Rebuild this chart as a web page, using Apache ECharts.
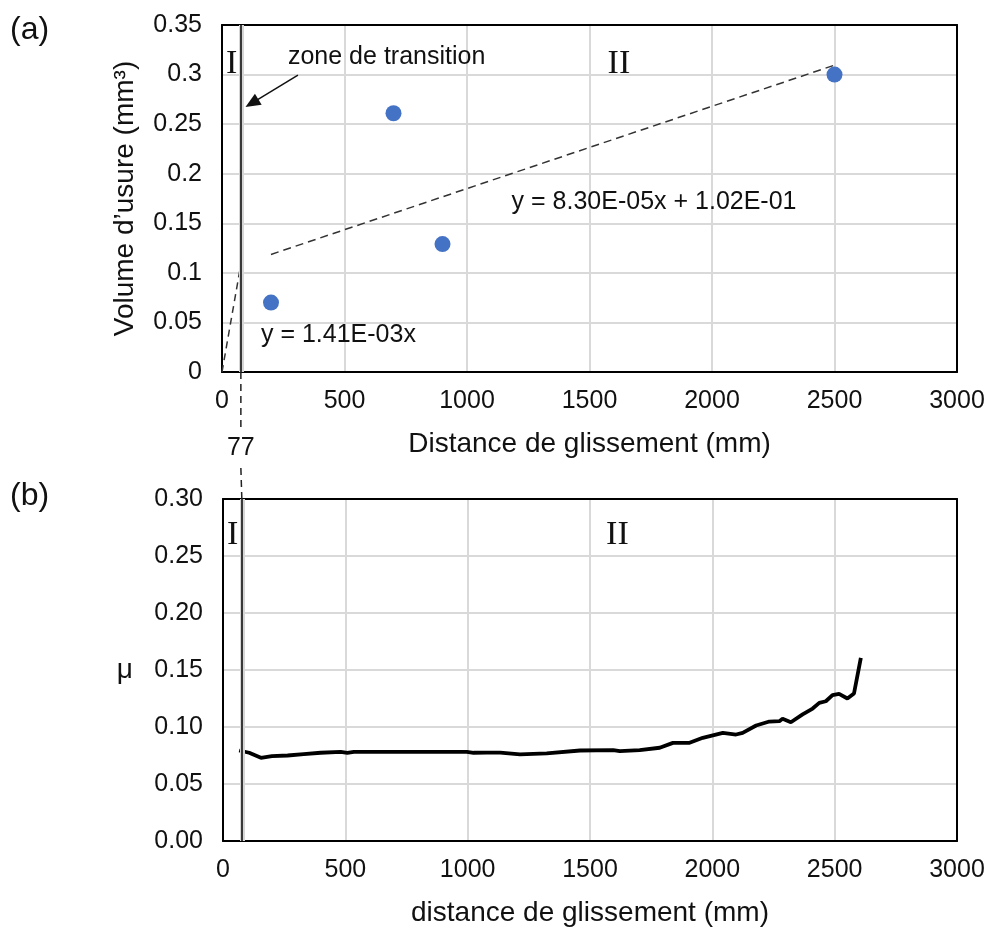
<!DOCTYPE html>
<html><head><meta charset="utf-8">
<script src="https://cdn.jsdelivr.net/npm/echarts@6/dist/echarts.min.js"></script>
<style>html,body{margin:0;padding:0;background:#fff}#c{width:992px;height:932px}</style>
</head><body><div id="c"></div>
<script>
// ---------- data ----------
const wearDistance = [200, 700, 900, 2500];
const wearVolume = [0.070, 0.261, 0.129, 0.300];
const fitIDistance = [0, 77];
const fitIVolume = [0, 0.1086];
const fitIIDistance = [200, 2500];
const fitIIVolume = [0.1186, 0.3095];
const transitionDistance = 77;
const frictionDistance = [66, 107, 155, 200, 264, 330, 399, 481, 508, 535, 700, 900, 997, 1024, 1078, 1133, 1214, 1323, 1459, 1595, 1622, 1703, 1785, 1839, 1907, 1961, 2043, 2097, 2124, 2179, 2233, 2274, 2287, 2321, 2369, 2410, 2437, 2464, 2491, 2518, 2552, 2579, 2607];
const frictionMu = [0.0794, 0.0774, 0.0730, 0.0745, 0.0750, 0.0762, 0.0774, 0.0782, 0.0774, 0.0782, 0.0782, 0.0782, 0.0782, 0.0774, 0.0775, 0.0776, 0.0759, 0.0768, 0.0794, 0.0797, 0.0788, 0.0797, 0.0818, 0.0861, 0.0861, 0.0905, 0.0949, 0.0934, 0.0949, 0.1013, 0.1048, 0.1051, 0.1072, 0.1042, 0.1110, 0.1162, 0.1212, 0.1226, 0.1279, 0.1291, 0.1250, 0.1294, 0.1607];
const xTickLabels = ['0', '500', '1000', '1500', '2000', '2500', '3000'];
const eqII = 'y = 8.30E-05x + 1.02E-01';
const eqI = 'y = 1.41E-03x';

// ---------- chart ----------
const FONT = "'Liberation Sans', Arial, sans-serif";
const SERIF = "'Liberation Serif', 'Times New Roman', serif";
const TXT = '#111';
const zip = (a, b) => a.map((v, i) => [v, b[i]]);

function mainX(grid, name) {
  return {
    gridIndex: grid, type: 'value', min: 0, max: 3000, interval: 500, position: 'bottom',
    axisLine: { show: true, onZero: false, lineStyle: { color: '#000', width: 2 } },
    axisTick: { show: false },
    axisLabel: { fontSize: 25, color: TXT, fontFamily: FONT, margin: 17,
      formatter: v => xTickLabels[Math.round(v / 500)] },
    splitLine: { show: true, showMinLine: false, showMaxLine: false, lineStyle: { color: '#d9d9d9', width: 2 } },
    name: name, nameLocation: 'middle', nameGap: 58,
    nameTextStyle: { fontSize: 28, color: TXT, fontFamily: FONT }
  };
}
function frameX(grid) {
  return { gridIndex: grid, type: 'value', min: 0, max: 3000, position: 'top', z: 3,
    axisLine: { show: true, onZero: false, lineStyle: { color: '#000', width: 2 } },
    axisTick: { show: false }, axisLabel: { show: false }, splitLine: { show: false } };
}
function mainY(grid, max, fmt, name, nameRot, nameGap) {
  return {
    gridIndex: grid, type: 'value', min: 0, max: max, interval: 0.05, position: 'left',
    axisLine: { show: true, onZero: false, lineStyle: { color: '#000', width: 2 } },
    axisTick: { show: false },
    axisLabel: { fontSize: 25, color: TXT, fontFamily: FONT, margin: 20, formatter: fmt },
    splitLine: { show: true, showMinLine: false, showMaxLine: false, lineStyle: { color: '#d9d9d9', width: 2 } },
    name: name, nameLocation: 'middle', nameRotate: nameRot, nameGap: nameGap,
    nameTextStyle: { fontSize: 28, color: TXT, fontFamily: FONT }
  };
}
function frameY(grid, max) {
  return { gridIndex: grid, type: 'value', min: 0, max: max, position: 'right', z: 3,
    axisLine: { show: true, onZero: false, lineStyle: { color: '#000', width: 2 } },
    axisTick: { show: false }, axisLabel: { show: false }, splitLine: { show: false } };
}

const chart = echarts.init(document.getElementById('c'), null, { renderer: 'canvas' });
const option = {
  animation: false,
  backgroundColor: '#fff',
  grid: [
    { left: 222, top: 25, width: 735, height: 347, containLabel: false, outerBoundsMode: 'none' },
    { left: 223, top: 499, width: 734, height: 342, containLabel: false, outerBoundsMode: 'none' }
  ],
  xAxis: [
    mainX(0, 'Distance de glissement (mm)'), frameX(0),
    mainX(1, 'distance de glissement (mm)'), frameX(1)
  ],
  yAxis: [
    mainY(0, 0.35, v => String(+v.toFixed(2)), 'Volume d\u2019usure (mm\u00b3)', 90, 83), frameY(0, 0.35),
    mainY(1, 0.30, v => v.toFixed(2), '\u03bc', 0, 90), frameY(1, 0.30)
  ],
  series: [
    { type: 'line', xAxisIndex: 0, yAxisIndex: 0, data: zip(fitIDistance, fitIVolume), symbol: 'none', z: 3,
      lineStyle: { color: '#333', width: 1.5, type: [7, 5] },
      markLine: { silent: true, symbol: ['none', 'none'], label: { show: false },
        lineStyle: { color: '#d6d6d6', width: 5, type: 'solid' }, data: [{ xAxis: transitionDistance }] } },
    { type: 'line', xAxisIndex: 0, yAxisIndex: 0, data: zip(fitIIDistance, fitIIVolume), symbol: 'none', z: 3,
      lineStyle: { color: '#333', width: 1.5, type: [8, 5] },
      markLine: { silent: true, symbol: ['none', 'none'], label: { show: false },
        lineStyle: { color: '#111', width: 1.6, type: 'solid' }, data: [{ xAxis: transitionDistance }] } },
    { type: 'scatter', xAxisIndex: 0, yAxisIndex: 0, data: zip(wearDistance, wearVolume), symbolSize: 16, z: 5,
      itemStyle: { color: '#4472C4', opacity: 1 },
      markLine: { silent: true, label: { show: false }, symbol: ['none', 'triangle'], symbolSize: [13, 15],
        lineStyle: { color: '#111', width: 1.5, type: 'solid' },
        data: [ [ { coord: [310, 0.2994] }, { coord: [122, 0.2712] } ] ] } },
    { type: 'line', xAxisIndex: 2, yAxisIndex: 2, data: zip(frictionDistance, frictionMu), symbol: 'none', z: 4,
      lineStyle: { color: '#000', width: 3.8 },
      markLine: { silent: true, symbol: ['none', 'none'], label: { show: false },
        data: [
          { xAxis: transitionDistance, lineStyle: { color: '#d6d6d6', width: 5, type: 'solid' } },
          { xAxis: transitionDistance, lineStyle: { color: '#111', width: 1.6, type: 'solid' } }
        ] } }
  ]
};
chart.setOption(option);

// annotations positioned through the axes' scales
const p0 = (x, y) => chart.convertToPixel({ gridIndex: 0 }, [x, y]);
const p1 = (x, y) => chart.convertToPixel({ gridIndex: 1 }, [x, y]);
const txt = (pt, text, size, family, align) => ({
  type: 'text', x: pt[0], y: pt[1], silent: true, z: 10,
  style: { text: text, fontSize: size, fontFamily: family, fill: TXT, align: align || 'center', verticalAlign: 'middle' }
});
const a = p0(transitionDistance, 0);
const b = p1(transitionDistance, 0.30);
const graphics = [
  txt(p0(672, 0.3175), 'zone de transition', 25, FONT),
  txt(p0(1182, 0.1714), eqII, 25, FONT, 'left'),
  txt(p0(159, 0.0370), eqI, 25, FONT, 'left'),
  txt(p0(39, 0.3105), 'I', 34, SERIF),
  txt(p0(1620, 0.3105), 'II', 34, SERIF),
  txt(p1(39, 0.2684), 'I', 34, SERIF),
  txt(p1(1612, 0.2684), 'II', 34, SERIF),
  txt([a[0], a[1] + 76], String(transitionDistance), 25, FONT),
  { type: 'line', silent: true, z: 10, shape: { x1: a[0], y1: a[1], x2: a[0], y2: a[1] + 55 },
    style: { stroke: '#222', lineWidth: 1.5, lineDash: [7, 5] } },
  { type: 'line', silent: true, z: 10, shape: { x1: a[0], y1: a[1] + 96, x2: b[0], y2: b[1] },
    style: { stroke: '#222', lineWidth: 1.5, lineDash: [7, 5] } },
  { type: 'text', left: 10, top: 14, silent: true, style: { text: '(a)', fontSize: 32, fontFamily: FONT, fill: TXT } },
  { type: 'text', left: 10, top: 480, silent: true, style: { text: '(b)', fontSize: 32, fontFamily: FONT, fill: TXT } }
];
chart.setOption({ graphic: graphics });
</script>
</body></html>
